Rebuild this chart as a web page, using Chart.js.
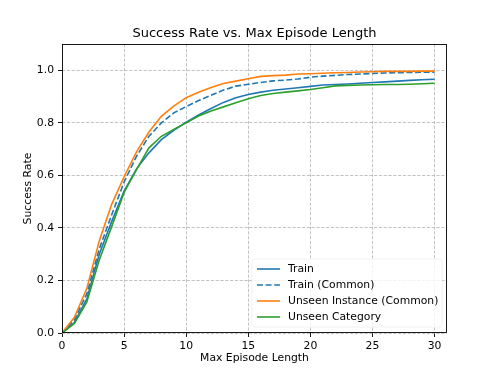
<!DOCTYPE html>
<html>
<head>
<meta charset="utf-8">
<script src="https://cdn.jsdelivr.net/npm/chart.js@4/dist/chart.umd.min.js"></script>
<style>
  html, body { margin: 0; padding: 0; background: #fff; }
  #wrap { width: 498px; height: 374px; }
</style>
</head>
<body>
<div id="wrap"><canvas id="line-chart" width="498" height="374"></canvas></div>
<script>
// max episode length (x)
var episodeLengths = [0, 1, 2, 3, 4, 5, 6, 7, 8, 9, 10, 11, 12, 13, 14, 15,
                      16, 17, 18, 19, 20, 21, 22, 23, 24, 25, 26, 27, 28, 29, 30];
var xTicks = [0, 5, 10, 15, 20, 25, 30];
var yTicks = [0, 0.2, 0.4, 0.6, 0.8, 1.0];

// success rates
var train = [0, 0.04, 0.13, 0.30, 0.424, 0.54, 0.625, 0.686, 0.736, 0.772, 0.803,
             0.83, 0.855, 0.878, 0.896, 0.908, 0.917, 0.924, 0.929, 0.934, 0.939,
             0.944, 0.946, 0.948, 0.951, 0.954, 0.956, 0.959, 0.962, 0.964, 0.966];
var trainCommon = [0, 0.05, 0.15, 0.32, 0.45, 0.575, 0.673, 0.749, 0.80, 0.838, 0.862,
                   0.885, 0.905, 0.925, 0.94, 0.947, 0.954, 0.96, 0.963, 0.967, 0.974,
                   0.978, 0.981, 0.984, 0.986, 0.988, 0.99, 0.991, 0.992, 0.993, 0.993];
var unseenInstance = [0, 0.06, 0.17, 0.35, 0.49, 0.595, 0.69, 0.765, 0.825, 0.864, 0.896,
                      0.917, 0.935, 0.950, 0.959, 0.968, 0.977, 0.980, 0.982, 0.986, 0.987,
                      0.989, 0.991, 0.992, 0.994, 0.995, 0.996, 0.996, 0.996, 0.997, 0.997];
var unseenCategory = [0, 0.036, 0.118, 0.278, 0.405, 0.535, 0.622, 0.705, 0.749, 0.775, 0.80,
                      0.826, 0.845, 0.861, 0.877, 0.892, 0.904, 0.912, 0.917, 0.922, 0.927,
                      0.934, 0.941, 0.943, 0.944, 0.945, 0.946, 0.946, 0.947, 0.949, 0.951];

var seriesLabels = ["Train", "Train (Common)", "Unseen Instance (Common)", "Unseen Category"];

function pts(ys) {
	return ys.map(function(y, i) { return {x: episodeLengths[i], y: y}; });
}

Chart.defaults.font.family = "'DejaVu Sans', sans-serif";
Chart.defaults.color = "#000";

// box round the axes + legend in lower right, like matplotlib
var framePlugin = {
	id: 'frame',
	afterDatasetsDraw: function(chart) {
		var ctx = chart.ctx, a = chart.chartArea;
		ctx.save();
		ctx.strokeStyle = "#000";
		ctx.lineWidth = 0.9;
		ctx.strokeRect(Math.round(a.left) + 0.5, Math.round(a.top) + 0.5,
			Math.round(a.right - a.left) - 1, Math.round(a.bottom - a.top) - 1);

		// legend
		var ds = chart.data.datasets;
		var bx = a.right - 195, by = a.bottom - 74, bw = 190, bh = 68;
		ctx.beginPath();
		ctx.roundRect(bx, by, bw, bh, 3);
		ctx.fillStyle = "rgba(255,255,255,0.8)";
		ctx.fill();
		ctx.strokeStyle = "rgba(235,235,235,0.8)";
		ctx.lineWidth = 0.9;
		ctx.stroke();
		ctx.font = "10.8px 'DejaVu Sans', sans-serif";
		ctx.textBaseline = "middle";
		ctx.textAlign = "left";
		for (var i = 0; i < ds.length; i++) {
			var yy = by + 10 + i * 16;
			ctx.beginPath();
			ctx.setLineDash(ds[i].borderDash || []);
			ctx.strokeStyle = ds[i].borderColor;
			ctx.lineWidth = 1.6;
			ctx.moveTo(bx + 5, yy);
			ctx.lineTo(bx + 28, yy);
			ctx.stroke();
			ctx.setLineDash([]);
			ctx.fillStyle = "#000";
			ctx.fillText(ds[i].label, bx + 36, yy);
		}
		ctx.restore();
	}
};

new Chart(document.getElementById("line-chart"), {
	type: 'line',
	data: {
		datasets: [{
			data: pts(train),
			label: seriesLabels[0],
			borderColor: "#1f77b4",
			order: 4
		}, {
			data: pts(trainCommon),
			label: seriesLabels[1],
			borderColor: "#1f77b4",
			borderDash: [6, 2.6],
			order: 3
		}, {
			data: pts(unseenInstance),
			label: seriesLabels[2],
			borderColor: "#ff7f0e",
			order: 2
		}, {
			data: pts(unseenCategory),
			label: seriesLabels[3],
			borderColor: "#2ca02c",
			order: 1
		}]
	},
	options: {
		responsive: false,
		animation: false,
		layout: { padding: { top: 26, right: 51, left: 0, bottom: 0 } },
		elements: {
			line: { borderWidth: 1.6, tension: 0, fill: false },
			point: { radius: 0 }
		},
		plugins: {
			legend: { display: false },
			tooltip: { enabled: false },
			title: {
				display: true,
				fullSize: false,
				text: 'Success Rate vs. Max Episode Length',
				font: { size: 13, weight: 'normal', lineHeight: 1.2 },
				color: "#000",
				padding: { top: 0, bottom: 2.5 }
			}
		},
		scales: {
			x: {
				type: 'linear',
				min: 0,
				max: 31,
				afterFit: function(s) { s.height = 41; },
				afterBuildTicks: function(s) { s.ticks = xTicks.map(function(v) { return {value: v}; }); },
				ticks: { padding: 3, font: { size: 10.8 }, maxRotation: 0, autoSkip: false,
					callback: function(v) { return v; } },
				grid: { color: "rgba(176,176,176,0.85)", lineWidth: 0.9, tickColor: "#000",
					tickLength: 4, tickWidth: 0.9, tickBorderDash: [] },
				border: { display: false, dash: [3.2, 1.6] },
				title: { display: true, text: 'Max Episode Length', font: { size: 10.8, lineHeight: 1.2 },
					padding: { top: 0, bottom: 9.5 } }
			},
			y: {
				min: 0,
				max: 1.1,
				afterFit: function(s) { s.width = 62; },
				afterBuildTicks: function(s) { s.ticks = yTicks.map(function(v) { return {value: v}; }); },
				ticks: { padding: 4, font: { size: 10.8 }, autoSkip: false,
					callback: function(v) { return v.toFixed(1); } },
				grid: { color: "rgba(176,176,176,0.85)", lineWidth: 0.9, tickColor: "#000",
					tickLength: 4, tickWidth: 0.9, tickBorderDash: [] },
				border: { display: false, dash: [3.2, 1.6] },
				title: { display: true, text: 'Success Rate', font: { size: 10.8, lineHeight: 1.2 },
					padding: { top: 21.5, bottom: 0 } }
			}
		}
	},
	plugins: [framePlugin]
});
</script>
</body>
</html>
